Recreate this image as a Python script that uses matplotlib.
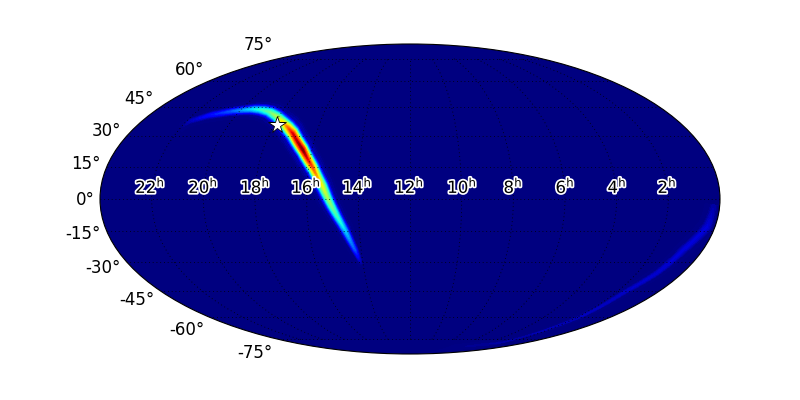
import numpy as np
import matplotlib
matplotlib.use('Agg')
import matplotlib.pyplot as plt
import matplotlib.patheffects as pe
from matplotlib.ticker import NullFormatter

# основная дуга: долгота и широта гребня (град), амплитуда, полуширина (град)
arc_lon = [-150.2, -147.8, -138.2, -124.8, -112.3, -105.5, -98.7, -91.4, -85.0, -80.0, -75.1, -65.5, -57.5, -50.7, -45.9, -38.5, -33.8, -30.8]
arc_lat = [34.2, 37.8, 40.9, 43.0, 44.0, 43.7, 42.6, 40.2, 37.1, 34.5, 31.5, 23.3, 14.7, 5.65, -2.8, -14.7, -24.3, -31.7]
arc_peak = [0.0, 0.05, 0.13, 0.22, 0.35, 0.41, 0.47, 0.56, 0.68, 0.8, 0.92, 1.0, 0.82, 0.62, 0.5, 0.33, 0.2, 0.0]
arc_width = [2.0, 2.2, 2.4, 2.6, 2.9, 3.0, 3.1, 3.3, 3.6, 3.9, 4.0, 4.0, 4.0, 4.0, 3.6, 3.0, 2.2, 1.2]

# слабая дуга внизу справа
ring_lon = [176.6, 175.3, 167.9, 163.2, 155.5, 152.2, 141.2, 77.0]
ring_lat = [-2.8, -13.2, -24.3, -35.7, -46.2, -59.9, -77.7, -83.0]
ring_peak = [0.03, 0.08, 0.08, 0.07, 0.06, 0.05, 0.03, 0.0]
ring_width = [3.0, 3.5, 3.5, 3.0, 3.0, 3.0, 2.5, 2.0]

# профиль поперёк дуги
cross_pos = [-1.7, -1.0, -0.7, -0.35, 0.0, 0.35, 0.7, 1.0, 1.7]
cross_val = [0.0, 0.05, 0.3, 0.75, 1.0, 0.75, 0.3, 0.05, 0.0]

star_lon = -87.9
star_lat = 35.7

ra_labels = ['22', '20', '18', '16', '14', '12', '10', '8', '6', '4', '2']
ra_x = [150, 203, 255, 306, 357, 409, 462, 513, 565, 617, 667]
dec_labels = ['75°', '60°', '45°', '30°', '15°', '0°', '-15°', '-30°', '-45°', '-60°', '-75°']
dec_right = [273, 204, 154, 121, 101, 95, 101, 121, 154, 204, 273]
dec_y = [45, 70, 99, 131, 164, 200, 234, 268, 300, 330, 353]


def band(ax, lon, lat, peak, width):
    lon = np.array(lon, dtype=float)
    lat = np.array(lat, dtype=float)
    dx = np.gradient(lon)
    dy = np.gradient(lat)
    norm = np.hypot(dx, dy)
    nx = -dy / norm
    ny = dx / norm
    pos = np.array(cross_pos)
    X = lon[:, None] + nx[:, None] * np.array(width)[:, None] * pos
    Y = lat[:, None] + ny[:, None] * np.array(width)[:, None] * pos
    Z = np.array(peak)[:, None] * np.array(cross_val)
    ax.contourf(np.radians(X), np.radians(Y), Z, levels=np.linspace(0, 1, 81),
                cmap='jet', vmin=0, vmax=1, zorder=1)


fig = plt.figure(figsize=(8, 4), dpi=100)
ax = fig.add_axes([0.125, 46 / 400, 0.775, 310 / 400], projection='mollweide')
ax.set_facecolor(plt.cm.jet(0.0))

band(ax, ring_lon, ring_lat, ring_peak, ring_width)
band(ax, arc_lon, arc_lat, arc_peak, arc_width)

ax.set_axisbelow(False)
ax.grid(True, color='k', linestyle=(0, (1, 3.5)), linewidth=0.6)
ax.xaxis.set_major_formatter(NullFormatter())
ax.yaxis.set_major_formatter(NullFormatter())

ax.plot(np.radians(star_lon), np.radians(star_lat), marker='*', ms=13, mfc='w', mec='k',
        mew=0.6, zorder=6, linestyle='none')

for lab, xc in zip(ra_labels, ra_x):
    fig.text(xc / 800, 1 - 193 / 400, lab + r'$^{\mathrm{h}}$', ha='center', va='baseline', fontsize=12,
             path_effects=[pe.withStroke(linewidth=2.5, foreground='w')])

for lab, xr, yc in zip(dec_labels, dec_right, dec_y):
    fig.text(xr / 800, 1 - yc / 400, lab, ha='right', va='center', fontsize=12)

fig.savefig('out.png', dpi=100)
